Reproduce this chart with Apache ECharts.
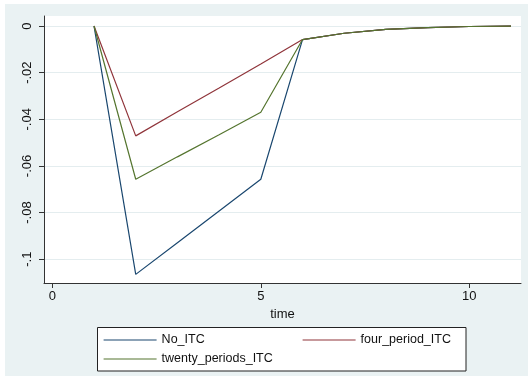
<!DOCTYPE html>
<html>
<head>
<meta charset="utf-8">
<script src="https://cdn.jsdelivr.net/npm/echarts@6/dist/echarts.min.js"></script>
<style>
  html, body { margin: 0; padding: 0; background: #ffffff; }
  #chart { width: 528px; height: 386px; }
</style>
</head>
<body>
<div id="chart"></div>
<script>
// ---- data ----
const time = [1, 2, 3, 4, 5, 6, 7, 8, 9, 10, 11];
const noITC = [0, -0.1065, -0.0929, -0.0793, -0.0657, -0.0058, -0.0031, -0.0014, -0.0007, -0.0002, 0];
const fourPeriodITC = [0, -0.0471, -0.0368, -0.0266, -0.0163, -0.0058, -0.0031, -0.0014, -0.0007, -0.0002, 0];
const twentyPeriodsITC = [0, -0.0657, -0.0561, -0.0466, -0.0370, -0.0058, -0.0031, -0.0014, -0.0007, -0.0002, 0];
const xTicks = [0, 5, 10];
const yTicks = [-0.1, -0.08, -0.06, -0.04, -0.02, 0];
const seriesNames = ['No_ITC', 'four_period_ITC', 'twenty_periods_ITC'];
const xTitle = 'time';

const FONT = "'Liberation Sans', Arial, sans-serif";
const colors = ['#1a476f', '#90353b', '#55752f'];
const pairs = (ys) => time.map((t, i) => [t, ys[i]]);
const fmtY = (v) => {
  if (Math.abs(v) < 1e-9) return '0';
  const s = String(+Math.abs(v).toFixed(4)).replace(/^0/, '');
  return (v < 0 ? '-' : '') + s;
};

const chart = echarts.init(document.getElementById('chart'), null, { renderer: 'canvas' });
const allData = [noITC, fourPeriodITC, twentyPeriodsITC];

chart.setOption({
  animation: false,
  backgroundColor: '#ffffff',
  textStyle: { fontFamily: FONT },
  graphic: [
    { type: 'rect', z: -10, silent: true, shape: { x: 5, y: 4, width: 523, height: 372 }, style: { fill: '#eaf2f3' } },
    { type: 'rect', z: 1, silent: true, shape: { x: 97.5, y: 327.5, width: 368.5, height: 43.5 }, style: { fill: '#ffffff', stroke: '#222222', lineWidth: 1 } }
  ],
  grid: {
    left: 44, top: 16, right: 7, bottom: 103,
    show: true, backgroundColor: '#ffffff', borderWidth: 0
  },
  xAxis: {
    type: 'value', min: -0.2, max: 11.24,
    name: xTitle, nameLocation: 'middle', nameGap: 20,
    nameTextStyle: { fontSize: 13, color: '#111', fontFamily: FONT },
    axisLine: { show: true, onZero: false, lineStyle: { color: '#333', width: 1 } },
    axisTick: { show: true, length: 5, customValues: xTicks, lineStyle: { color: '#333' } },
    axisLabel: { customValues: xTicks, margin: 7, fontSize: 13, color: '#111', fontFamily: FONT },
    splitLine: { show: false }
  },
  yAxis: {
    type: 'value', min: -0.1102, max: 0.0043,
    axisLine: { show: true, onZero: false, lineStyle: { color: '#333', width: 1 } },
    axisTick: { show: true, length: 5, customValues: yTicks, lineStyle: { color: '#333' } },
    axisLabel: { customValues: yTicks, rotate: 90, margin: 10, fontSize: 13, color: '#111', fontFamily: FONT, formatter: fmtY },
    splitLine: { show: true, lineStyle: { color: '#e4edef', width: 1 } }
  },
  legend: seriesNames.map((n, i) => ({
    data: [n],
    left: i === 1 ? 302 : 103,
    top: i === 2 ? 352 : 333,
    padding: 0,
    itemWidth: 53, itemHeight: 14,
    z: 5,
    itemStyle: { opacity: 0, color: 'rgba(0,0,0,0)', borderWidth: 0 },
    lineStyle: { width: 1.2 },
    textStyle: { fontSize: 12.5, color: '#111', fontFamily: FONT, lineHeight: 14 },
    selectedMode: false
  })),
  series: seriesNames.map((n, i) => ({
    name: n, type: 'line', data: pairs(allData[i]),
    symbol: 'none', showSymbol: false,
    lineStyle: { color: colors[i], width: 1.2 },
    itemStyle: { color: colors[i] },
    z: 2 + i
  }))
});
</script>
</body>
</html>
